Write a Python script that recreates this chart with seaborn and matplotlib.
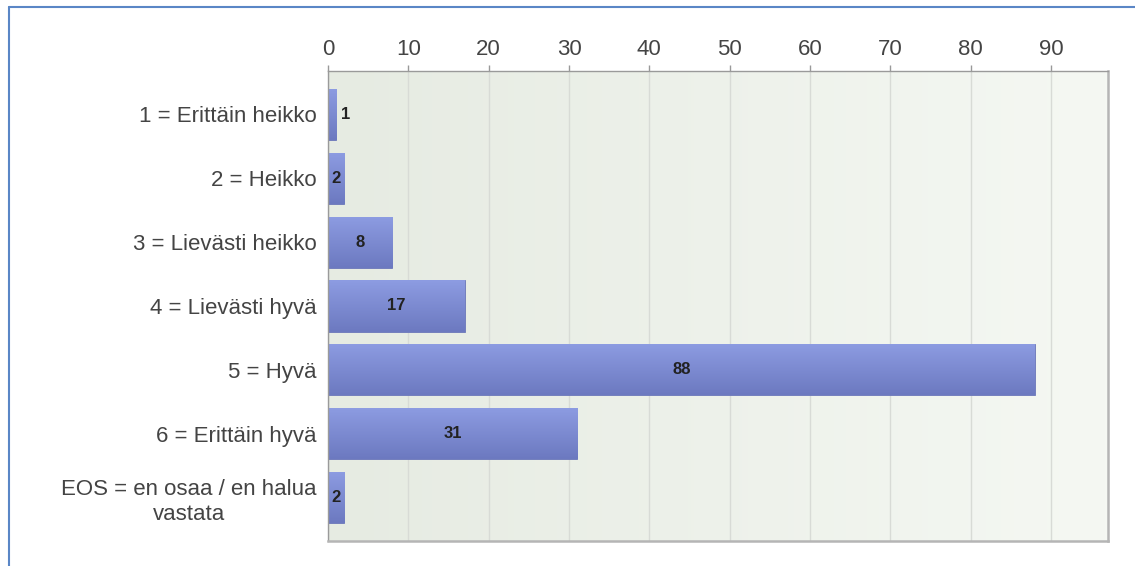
import numpy as np
import pandas as pd
import matplotlib
matplotlib.use("Agg")
import matplotlib.pyplot as plt
import seaborn as sns
from matplotlib.colors import LinearSegmentedColormap
from matplotlib.lines import Line2D

categories = ["1 = Erittäin heikko", "2 = Heikko", "3 = Lievästi heikko",
              "4 = Lievästi hyvä", "5 = Hyvä", "6 = Erittäin hyvä",
              "EOS = en osaa / en halua\nvastata"]
values = [1, 2, 8, 17, 88, 31, 2]
x_ticks = [0, 10, 20, 30, 40, 50, 60, 70, 80, 90]

sns.set_theme(style="white")
plt.rcParams['font.family'] = ['Liberation Sans', 'DejaVu Sans']

df = pd.DataFrame({"cat": categories, "val": values})

fig = plt.figure(figsize=(11.35, 5.66), dpi=100)
ax = fig.add_axes([328/1135, 1 - 541/566, (1108-328)/1135, (541-71)/566])

sns.barplot(data=df, y="cat", x="val", orient="h", color="#7a88d0",
            width=0.8, ax=ax, saturation=1)

ax.set_xlim(0, 97.1)
ax.set_ylim(6.68, -0.68)

# background gradient
bg = LinearSegmentedColormap.from_list("bg", ["#e6ebe2", "#f5f8f3"])
ax.imshow(np.linspace(0, 1, 256).reshape(1, -1), cmap=bg, aspect="auto",
          extent=[0, 1, 0, 1], transform=ax.transAxes, zorder=-2)
ax.set_facecolor("none")

# bar gradient
barcm = LinearSegmentedColormap.from_list("bar", ["#6c79c0", "#8d9ce2"])
grad = np.linspace(0, 1, 256).reshape(-1, 1)
for p in ax.patches:
    x0, y0 = p.get_x(), p.get_y()
    w, h = p.get_width(), p.get_height()
    p.set_edgecolor("#6a76b8")
    p.set_linewidth(0.6)
    im = ax.imshow(grad, cmap=barcm, aspect="auto",
                   extent=[x0, x0 + w, y0 + h, y0], origin="lower", zorder=2)
    im.set_clip_path(p)

ax.set_xlim(0, 97.1)
ax.set_ylim(6.68, -0.68)

# value labels
for i, v in enumerate(values):
    if v < 2:
        ax.text(v + 0.6, i, str(v), ha="left", va="center", fontsize=12,
                fontweight="bold", color="#222222", zorder=4)
    else:
        ax.text(v / 2, i, str(v), ha="center", va="center", fontsize=12,
                fontweight="bold", color="#222222", zorder=4)

ax.set_xticks(x_ticks)
ax.xaxis.tick_top()
ax.tick_params(axis="x", top=True, bottom=False, length=4, width=1,
               color="#999999", pad=4, labelsize=16, labelcolor="#444444")
ax.tick_params(axis="y", left=False, pad=2, labelsize=16, labelcolor="#444444")
for lab in ax.get_yticklabels():
    lab.set_multialignment("center")
    lab.set_linespacing(1.25)
ax.set_xlabel("")
ax.set_ylabel("")
ax.grid(axis="x", color="#d8dbd6", linewidth=1, zorder=-1)
ax.set_axisbelow(True)

for s in ["top", "left"]:
    ax.spines[s].set_color("#9a9a9a")
    ax.spines[s].set_linewidth(1)
for s in ["right", "bottom"]:
    ax.spines[s].set_color("#b5b5b5")
    ax.spines[s].set_linewidth(1.8)

# outer frame (left and top edges)
fig.add_artist(Line2D([9/1135, 9/1135], [0, 1 - 7/566], transform=fig.transFigure,
                      color="#5a86c6", linewidth=1.5))
fig.add_artist(Line2D([9/1135, 1], [1 - 7/566, 1 - 7/566], transform=fig.transFigure,
                      color="#5a86c6", linewidth=1.5))

fig.savefig("out.png", dpi=100)
